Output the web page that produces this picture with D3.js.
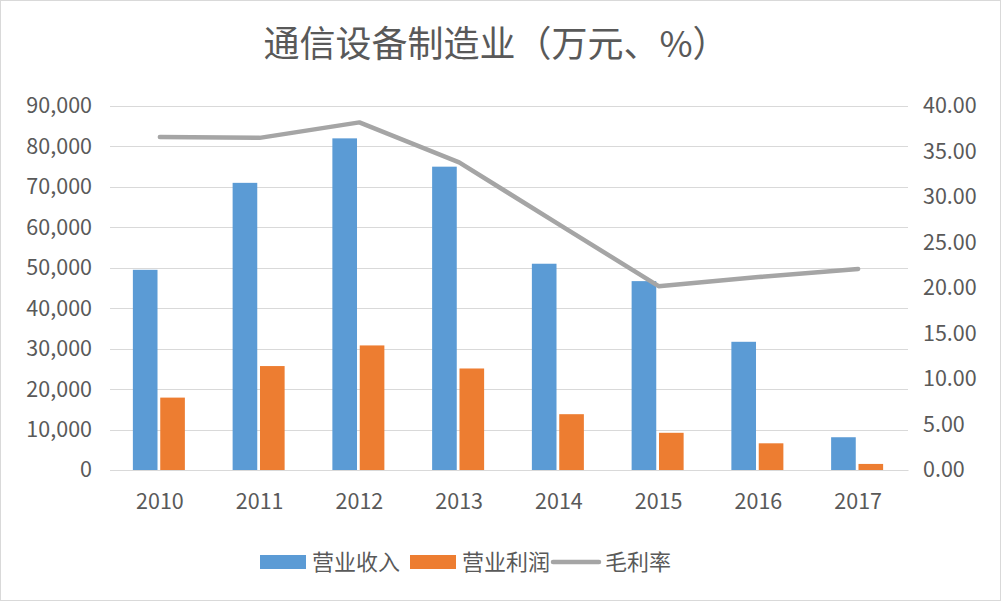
<!DOCTYPE html>
<html>
<head>
<meta charset="utf-8">
<script src="https://cdn.jsdelivr.net/npm/d3@7"></script>
<style>
  body { margin: 0; background: #fff; }
  text { font-family: "Noto Sans CJK SC", "Noto Sans", sans-serif; fill: #595959; }
</style>
</head>
<body>
<div id="chart"></div>
<script>
// 数据
const years = ['2010', '2011', '2012', '2013', '2014', '2015', '2016', '2017'];
const revenue = [49500, 71000, 82000, 75000, 51000, 46700, 31700, 8100];
const profit = [17900, 25700, 30800, 25100, 13800, 9200, 6600, 1500];
const margin = [36.6, 36.5, 38.2, 33.8, 27.0, 20.2, 21.2, 22.1];
const leftTicks = [0, 10000, 20000, 30000, 40000, 50000, 60000, 70000, 80000, 90000];
const rightTicks = [0, 5, 10, 15, 20, 25, 30, 35, 40];
const seriesNames = ['营业收入', '营业利润', '毛利率'];

const width = 1001, height = 601;
const plot = { left: 110, right: 908, top: 106, bottom: 470 };

const svg = d3.select('#chart').append('svg')
    .attr('width', width)
    .attr('height', height);

svg.append('rect')
    .attr('x', 0.5).attr('y', 0.5)
    .attr('width', width - 1).attr('height', height - 1)
    .attr('fill', '#fff').attr('stroke', '#d9d9d9');

const x = d3.scaleBand().domain(years).range([plot.left, plot.right]);
const x1 = d3.scaleBand().domain([0, 1]).range([-27, 25]).paddingInner(0.1);
const yL = d3.scaleLinear().domain([0, 90000]).range([plot.bottom, plot.top]);
const yR = d3.scaleLinear().domain([0, 40]).range([plot.bottom, plot.top]);

// 网格线
svg.append('g').selectAll('line')
    .data(leftTicks)
    .enter().append('line')
    .attr('x1', plot.left).attr('x2', plot.right)
    .attr('y1', d => Math.round(yL(d)) + 0.5).attr('y2', d => Math.round(yL(d)) + 0.5)
    .attr('stroke', '#d9d9d9').attr('stroke-width', 1.2);

// 左轴
const axL = svg.append('g')
    .attr('transform', `translate(${plot.left}, 0)`)
    .call(d3.axisLeft(yL).tickValues(leftTicks).tickFormat(d3.format(',')).tickSize(0).tickPadding(18));
axL.select('.domain').remove();
axL.selectAll('text').attr('font-size', 21.5).attr('fill', '#595959');

// 右轴
const axR = svg.append('g')
    .attr('transform', `translate(${plot.right}, 0)`)
    .call(d3.axisRight(yR).tickValues(rightTicks).tickFormat(d3.format('.2f')).tickSize(0).tickPadding(15));
axR.select('.domain').remove();
axR.selectAll('text').attr('font-size', 21.5).attr('fill', '#595959');

// 底轴
const axB = svg.append('g')
    .attr('transform', `translate(0, ${plot.bottom})`)
    .call(d3.axisBottom(x).tickSize(0).tickPadding(24));
axB.select('.domain').attr('stroke', '#d9d9d9').attr('stroke-width', 1.2);
axB.selectAll('text').attr('font-size', 21.5).attr('fill', '#595959');

// 柱子
const groups = svg.append('g').selectAll('g')
    .data(years)
    .enter().append('g')
    .attr('transform', d => `translate(${x(d) + x.bandwidth() / 2}, 0)`);

groups.append('rect')
    .attr('x', x1(0)).attr('width', x1.bandwidth())
    .attr('y', (d, i) => yL(revenue[i]))
    .attr('height', (d, i) => plot.bottom - yL(revenue[i]))
    .attr('fill', '#5b9bd5');

groups.append('rect')
    .attr('x', x1(1)).attr('width', x1.bandwidth())
    .attr('y', (d, i) => yL(profit[i]))
    .attr('height', (d, i) => plot.bottom - yL(profit[i]))
    .attr('fill', '#ed7d31');

// 毛利率折线
const line = d3.line()
    .x((d, i) => x(years[i]) + x.bandwidth() / 2)
    .y(d => yR(d));

svg.append('path')
    .datum(margin)
    .attr('d', line)
    .attr('fill', 'none')
    .attr('stroke', '#a5a5a5')
    .attr('stroke-width', 4.5)
    .attr('stroke-linejoin', 'round')
    .attr('stroke-linecap', 'round');

// 标题
svg.append('text')
    .attr('x', 496).attr('y', 57)
    .attr('text-anchor', 'middle')
    .attr('font-size', 36)
    .text('通信设备制造业（万元、%）');

// 图例
const legend = svg.append('g').attr('transform', 'translate(0, 562)');
const items = [
    { name: seriesNames[0], color: '#5b9bd5', type: 'rect', x: 260 },
    { name: seriesNames[1], color: '#ed7d31', type: 'rect', x: 410 },
    { name: seriesNames[2], color: '#a5a5a5', type: 'line', x: 553 }
];
items.forEach(it => {
    if (it.type === 'rect') {
        legend.append('rect')
            .attr('x', it.x).attr('y', -7).attr('width', 46).attr('height', 14)
            .attr('fill', it.color);
    } else {
        legend.append('line')
            .attr('x1', it.x).attr('x2', it.x + 46)
            .attr('y1', 0).attr('y2', 0)
            .attr('stroke', it.color).attr('stroke-width', 4.5).attr('stroke-linecap', 'round');
    }
    legend.append('text')
        .attr('x', it.x + 52).attr('y', 0)
        .attr('dy', '0.35em')
        .attr('font-size', 22)
        .text(it.name);
});
</script>
</body>
</html>
